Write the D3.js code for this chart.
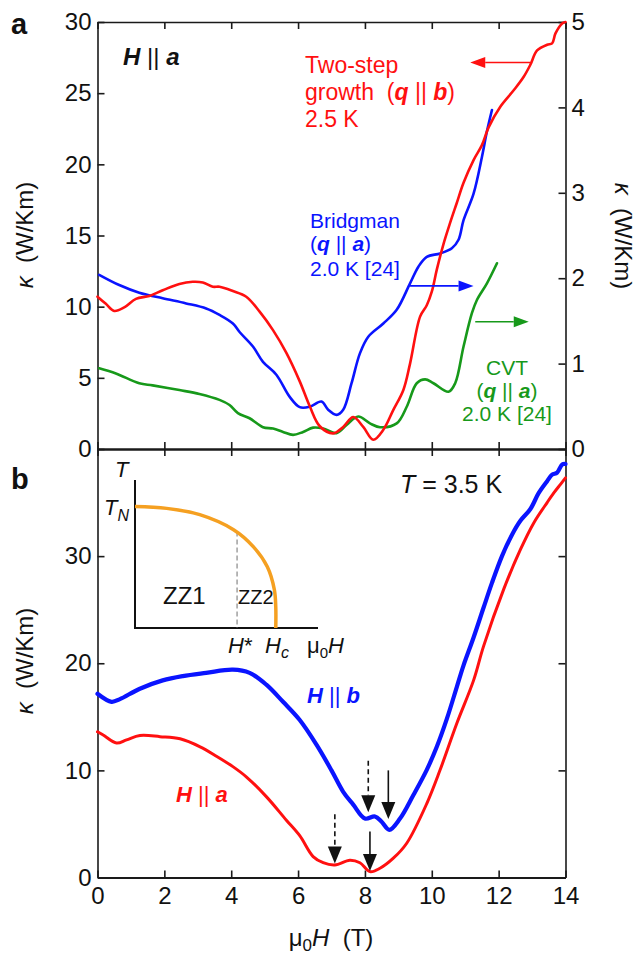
<!DOCTYPE html>
<html>
<head>
<meta charset="utf-8">
<script src="https://cdn.jsdelivr.net/npm/d3@7"></script>
<style>
  body { margin: 0; background: #fff; }
  svg { display: block; font-family: "Liberation Sans", Arial, sans-serif; }
</style>
</head>
<body>
<svg id="chart" width="639" height="956"></svg>
<script>
// ---------- data ----------
const fieldTicks = [0, 2, 4, 6, 8, 10, 12, 14]
const kappaTicksA = [0, 5, 10, 15, 20, 25, 30]
const kappaTicksAR = [0, 1, 2, 3, 4, 5]
const kappaTicksB = [0, 10, 20, 30]

// panel a, two-step growth, 2.5 K (left axis)
const twoStepH = [0.0, 0.25, 0.5, 0.8, 1.15, 1.55, 1.95, 2.45, 2.85, 3.15, 3.45, 3.65, 4.05, 4.45, 4.85, 5.25, 5.65, 6.05, 6.35, 6.65, 7.05, 7.35, 7.65, 7.95, 8.25, 8.55, 8.85, 9.15, 9.35, 9.65, 9.85, 10.0, 10.15, 10.35, 10.55, 10.75, 10.95, 11.25, 11.5, 11.7, 12.05, 12.45, 12.75, 12.95, 13.15, 13.45, 13.6, 13.7, 13.9, 14.0]
const twoStepK = [10.7, 10.2, 9.7, 9.95, 10.55, 10.75, 11.15, 11.6, 11.75, 11.7, 11.4, 11.4, 11.1, 10.7, 9.65, 8.35, 6.75, 4.75, 3.0, 1.6, 1.1, 1.55, 2.25, 1.55, 0.65, 1.35, 2.75, 4.15, 6.0, 9.3, 10.1, 11.05, 12.6, 14.4, 15.9, 17.3, 18.7, 20.3, 21.35, 22.6, 24.05, 25.2, 26.15, 27.0, 28.0, 28.4, 28.5, 29.2, 29.9, 30.0]

// panel a, Bridgman, 2.0 K (right axis)
const bridgmanH = [0.05, 0.65, 1.25, 1.95, 2.65, 3.25, 3.65, 4.05, 4.25, 4.65, 4.95, 5.35, 5.75, 6.05, 6.35, 6.7, 6.9, 7.15, 7.35, 7.6, 7.85, 8.1, 8.55, 8.95, 9.35, 9.6, 9.85, 10.25, 10.6, 10.8, 10.95, 11.25, 11.5, 11.65, 11.8]
const bridgmanK = [2.04, 1.92, 1.83, 1.765, 1.705, 1.645, 1.57, 1.47, 1.37, 1.2, 1.02, 0.87, 0.61, 0.49, 0.495, 0.555, 0.46, 0.4, 0.46, 0.77, 1.12, 1.315, 1.47, 1.63, 1.94, 2.135, 2.25, 2.29, 2.35, 2.45, 2.68, 2.99, 3.42, 3.72, 3.97]

// panel a, CVT, 2.0 K (right axis)
const cvtH = [0.05, 0.55, 1.25, 1.65, 2.45, 3.05, 3.65, 3.95, 4.2, 4.55, 4.95, 5.25, 5.55, 5.85, 6.15, 6.45, 6.75, 7.15, 7.45, 7.8, 8.15, 8.45, 8.95, 9.25, 9.55, 9.8, 10.05, 10.5, 10.7, 10.95, 11.2, 11.35, 11.65, 11.95]
const cvtK = [0.945, 0.885, 0.77, 0.745, 0.69, 0.645, 0.575, 0.515, 0.42, 0.36, 0.255, 0.24, 0.2, 0.165, 0.2, 0.25, 0.24, 0.185, 0.28, 0.38, 0.3, 0.255, 0.3, 0.495, 0.77, 0.815, 0.77, 0.67, 0.77, 1.2, 1.59, 1.745, 1.94, 2.175]

// panel b, T = 3.5 K, H || b
const hbH = [0, 0.42, 0.67, 1.25, 1.95, 2.55, 3.25, 4.05, 4.55, 5.05, 5.55, 6.05, 6.55, 7.0, 7.35, 7.65, 8.0, 8.3, 8.5, 8.73, 9.05, 9.45, 9.85, 10.15, 10.45, 10.75, 10.95, 11.25, 11.55, 11.8, 12.1, 12.4, 12.65, 12.95, 13.2, 13.45, 13.6, 13.75, 13.9, 14.0]
const hbK = [17.15, 16.4, 16.65, 17.6, 18.4, 18.8, 19.1, 19.4, 19.1, 18.0, 16.4, 14.7, 12.4, 10.0, 8.0, 6.8, 5.5, 5.7, 5.2, 4.45, 5.5, 7.7, 10.05, 12.2, 14.8, 17.8, 19.8, 22.4, 25.2, 27.5, 30.0, 32.0, 33.3, 34.4, 35.9, 37.0, 37.6, 37.8, 38.55, 38.6]

// panel b, T = 3.5 K, H || a
const haH = [0, 0.17, 0.57, 0.87, 1.27, 1.87, 2.47, 3.07, 3.57, 4.05, 4.45, 5.05, 5.65, 6.05, 6.45, 6.75, 7.1, 7.55, 7.85, 8.15, 8.45, 8.85, 9.25, 9.85, 10.25, 10.75, 11.25, 11.55, 12.15, 12.65, 13.05, 13.45, 13.65, 13.85, 14.0]
const haK = [13.6, 13.3, 12.55, 12.85, 13.25, 13.15, 12.95, 12.2, 11.3, 10.35, 9.4, 7.55, 5.35, 3.9, 1.95, 1.38, 1.17, 1.62, 1.38, 0.55, 0.86, 1.8, 3.2, 6.9, 10.05, 14.4, 18.4, 21.6, 26.9, 30.6, 33.1, 35.0, 35.9, 36.7, 37.3]

// inset phase diagram (schematic, H/Hc vs T/TN)
const phaseH = [0, 0.225, 0.46, 0.70, 0.84, 0.94, 0.99, 1.0, 1.0]
const phaseT = [0.985, 0.97, 0.919, 0.797, 0.66, 0.496, 0.31, 0.17, 0]
const hStar = 0.725

// arrows marking anomalies in panel b: [field, from kappa, to kappa]
const arrowsA = [[7.1, 5.9, 1.3], [8.15, 4.3, 0.6]]
const arrowsB = [[8.1, 10.9, 6.1], [8.7, 10.0, 5.45]]

// ---------- setup ----------
const red = "#ff1010", blue = "#0a14ff", green = "#17991a", orange = "#f5a021", ink = "#111"
const svg = d3.select("#chart")

const x = d3.scaleLinear().domain([0, 14]).range([97.5, 565.5])
const yA = d3.scaleLinear().domain([0, 30]).range([449, 22])
const yAR = d3.scaleLinear().domain([0, 5]).range([449, 22])
const yB = d3.scaleLinear().domain([0, 40]).range([877.5, 449])

function styleAxis (g, size = 24) {
  g.attr("font-family", null).attr("font-size", null)
  g.select(".domain").attr("stroke", "#1a1a1a").attr("stroke-width", 1.6)
  g.selectAll(".tick line").attr("stroke", "#1a1a1a").attr("stroke-width", 1.6)
  g.selectAll(".tick text").attr("font-size", size).attr("fill", ink)
}

// ---------- axes ----------
// panel a
svg.append("g").attr("transform", "translate(97.5,0)")
  .call(d3.axisLeft(yA).tickValues(kappaTicksA).tickSize(-7).tickSizeOuter(0).tickPadding(6))
  .call(styleAxis)
svg.append("g").attr("transform", "translate(565.5,0)")
  .call(d3.axisRight(yAR).tickValues(kappaTicksAR).tickFormat(d3.format("d"))
    .tickSize(-7).tickSizeOuter(0).tickPadding(6))
  .call(styleAxis)
svg.append("g").attr("transform", "translate(0,22)")
  .call(d3.axisTop(x).tickValues(fieldTicks).tickSize(-7).tickSizeOuter(0).tickFormat(""))
  .call(styleAxis)
svg.append("g").attr("transform", "translate(0,449)")
  .call(d3.axisBottom(x).tickValues(fieldTicks).tickSize(-7).tickSizeOuter(0).tickFormat(""))
  .call(styleAxis)
  .call(g => g.select(".domain").attr("stroke-width", 2))

// panel b
svg.append("g").attr("transform", "translate(0,449)")
  .call(d3.axisTop(x).tickValues(fieldTicks).tickSize(-7).tickSizeOuter(0).tickFormat(""))
  .call(styleAxis)
  .call(g => g.select(".domain").attr("stroke-width", 2))
svg.append("g").attr("transform", "translate(97.5,0)")
  .call(d3.axisLeft(yB).tickValues(kappaTicksB).tickSize(-7).tickSizeOuter(0).tickPadding(6))
  .call(styleAxis)
svg.append("g").attr("transform", "translate(565.5,0)")
  .call(d3.axisRight(yB).tickValues(kappaTicksB.slice(1)).tickSize(-7).tickSizeOuter(0).tickFormat(""))
  .call(styleAxis)
svg.append("g").attr("transform", "translate(0,877.5)")
  .call(d3.axisBottom(x).tickValues(fieldTicks).tickSize(-7).tickSizeOuter(0).tickPadding(9))
  .call(styleAxis)
  .call(g => g.select(".domain").attr("stroke-width", 2))

// ---------- axis titles ----------
function kappaTitle (tx, ty, rot) {
  const t = svg.append("text")
    .attr("transform", `translate(${tx},${ty}) rotate(${rot})`)
    .attr("text-anchor", "middle").attr("font-size", 24).attr("fill", ink)
  t.append("tspan").attr("font-style", "italic").text("\u03ba")
  t.append("tspan").text("\u00a0\u00a0(W/Km)")
}
kappaTitle(33, 235, -90)
kappaTitle(33, 661, -90)
kappaTitle(615, 236, 90)

const xt = svg.append("text").attr("x", 331).attr("y", 946)
  .attr("text-anchor", "middle").attr("font-size", 24).attr("fill", ink)
xt.append("tspan").text("\u03bc")
xt.append("tspan").attr("font-size", 17).attr("dy", 5).text("0")
xt.append("tspan").attr("font-style", "italic").attr("dy", -5).text("H")
xt.append("tspan").text("\u00a0\u00a0(T)")

// panel letters
svg.append("text").attr("x", 11).attr("y", 34).attr("font-size", 29)
  .attr("font-weight", "bold").attr("fill", ink).text("a")
svg.append("text").attr("x", 11).attr("y", 489).attr("font-size", 29)
  .attr("font-weight", "bold").attr("fill", ink).text("b")

// ---------- curves ----------
function drawLine (H, K, y, color, width) {
  const line = d3.line()
    .x(d => x(d[0]))
    .y(d => y(d[1]))
    .curve(d3.curveCatmullRom.alpha(0.5))
  svg.append("path")
    .datum(d3.zip(H, K))
    .attr("d", line)
    .attr("fill", "none")
    .attr("stroke", color)
    .attr("stroke-width", width)
    .attr("stroke-linejoin", "round")
    .attr("stroke-linecap", "round")
}

drawLine(cvtH, cvtK, yAR, green, 2.6)
drawLine(bridgmanH, bridgmanK, yAR, blue, 2.6)
drawLine(twoStepH, twoStepK, yA, red, 2.6)
drawLine(haH, haK, yB, red, 3)
drawLine(hbH, hbK, yB, blue, 4.2)

// ---------- arrows ----------
function hArrow (h1, h2, yPix, color) {
  const x1 = x(h1), x2 = x(h2)
  const dir = Math.sign(x2 - x1), len = 15, hw = 5.5
  svg.append("line").attr("x1", x1).attr("y1", yPix).attr("x2", x2 - dir * len).attr("y2", yPix)
    .attr("stroke", color).attr("stroke-width", 1.6)
  svg.append("path")
    .attr("d", `M${x2},${yPix}L${x2 - dir * len},${yPix - hw}L${x2 - dir * len},${yPix + hw}Z`)
    .attr("fill", color)
}
hArrow(12.95, 11.15, yA(27.15), red)
hArrow(9.35, 11.25, yAR(1.91), blue)
hArrow(11.3, 12.9, yAR(1.49), green)

function vArrow (h, k1, k2, dashed) {
  const xp = x(h), y1 = yB(k1), y2 = yB(k2), len = 17, hw = 7
  svg.append("line").attr("x1", xp).attr("y1", y1).attr("x2", xp).attr("y2", y2 - len)
    .attr("stroke", ink).attr("stroke-width", 1.6)
    .attr("stroke-dasharray", dashed ? "5,3.5" : null)
  svg.append("path")
    .attr("d", `M${xp},${y2}L${xp - hw},${y2 - len}L${xp + hw},${y2 - len}Z`)
    .attr("fill", ink)
}
vArrow(arrowsA[0][0], arrowsA[0][1], arrowsA[0][2], true)
vArrow(arrowsA[1][0], arrowsA[1][1], arrowsA[1][2], false)
vArrow(arrowsB[0][0], arrowsB[0][1], arrowsB[0][2], true)
vArrow(arrowsB[1][0], arrowsB[1][1], arrowsB[1][2], false)

// ---------- annotation text ----------
// parts: [text, "b" bold-italic | "i" italic | ""]
function label (xp, yp, parts, color, size, anchor = "start") {
  const t = svg.append("text").attr("x", xp).attr("y", yp)
    .attr("font-size", size).attr("fill", color).attr("text-anchor", anchor)
  parts.forEach(([s, st]) => {
    const sp = t.append("tspan").text(s)
    if (st.includes("b")) sp.attr("font-weight", "bold").attr("font-style", "italic")
    if (st.includes("i")) sp.attr("font-style", "italic")
  })
  return t
}

label(123, 65, [["H", "b"], ["\u00a0||\u00a0", ""], ["a", "b"]], ink, 24)

label(305, 73, [["Two-step", ""]], red, 23)
label(305, 100, [["growth\u00a0\u00a0(", ""], ["q", "b"], ["\u00a0||\u00a0", ""], ["b", "b"], [")", ""]], red, 23)
label(305, 127, [["2.5 K", ""]], red, 23)

label(310, 228, [["Bridgman", ""]], blue, 21)
label(310, 251, [["(", ""], ["q", "b"], ["\u00a0||\u00a0", ""], ["a", "b"], [")", ""]], blue, 21)
label(310, 276, [["2.0 K [24]", ""]], blue, 21)

label(507, 375, [["CVT", ""]], green, 21, "middle")
label(507, 398, [["(", ""], ["q", "b"], ["\u00a0||\u00a0", ""], ["a", "b"], [")", ""]], green, 21, "middle")
label(507, 421, [["2.0 K [24]", ""]], green, 21, "middle")

label(400, 493, [["T", "i"], ["\u00a0=\u00a03.5 K", ""]], ink, 25)
label(307, 703, [["H", "b"], ["\u00a0||\u00a0", ""], ["b", "b"]], blue, 22)
label(176, 802, [["H", "b"], ["\u00a0||\u00a0", ""], ["a", "b"]], red, 22)

// ---------- inset phase diagram ----------
const xi = d3.scaleLinear().domain([0, 1.3]).range([135, 318])
const yi = d3.scaleLinear().domain([0, 1.2]).range([628, 480])
const inset = svg.append("g")

inset.append("path")
  .attr("d", `M${xi(0)},${yi(1.2)}V${yi(0)}H${xi(1.3)}`)
  .attr("fill", "none").attr("stroke", ink).attr("stroke-width", 2)

const tAtStar = 0.783
inset.append("line")
  .attr("x1", xi(hStar)).attr("x2", xi(hStar))
  .attr("y1", yi(tAtStar)).attr("y2", yi(0))
  .attr("stroke", "#888").attr("stroke-width", 1.2).attr("stroke-dasharray", "5,3")

inset.append("path")
  .datum(d3.zip(phaseH, phaseT))
  .attr("d", d3.line().x(d => xi(d[0])).y(d => yi(d[1])).curve(d3.curveCatmullRom.alpha(0.5)))
  .attr("fill", "none").attr("stroke", orange).attr("stroke-width", 3.5)

label(115, 477, [["T", "i"]], ink, 22)
const tn = label(104, 515, [["T", "i"]], ink, 22)
tn.append("tspan").attr("font-style", "italic").attr("font-size", 16).attr("dy", 6).text("N")
label(163, 604, [["ZZ1", ""]], ink, 24)
label(238, 604, [["ZZ2", ""]], ink, 20)
label(228, 653, [["H", "i"], ["*", ""]], ink, 22)
const hc = label(265, 653, [["H", "i"]], ink, 22)
hc.append("tspan").attr("font-style", "italic").attr("font-size", 16).attr("dy", 5).text("c")
const mh = label(307, 653, [["\u03bc", ""]], ink, 22)
mh.append("tspan").attr("font-size", 15).attr("dy", 5).text("0")
mh.append("tspan").attr("font-style", "italic").attr("dy", -5).text("H")
</script>
</body>
</html>
